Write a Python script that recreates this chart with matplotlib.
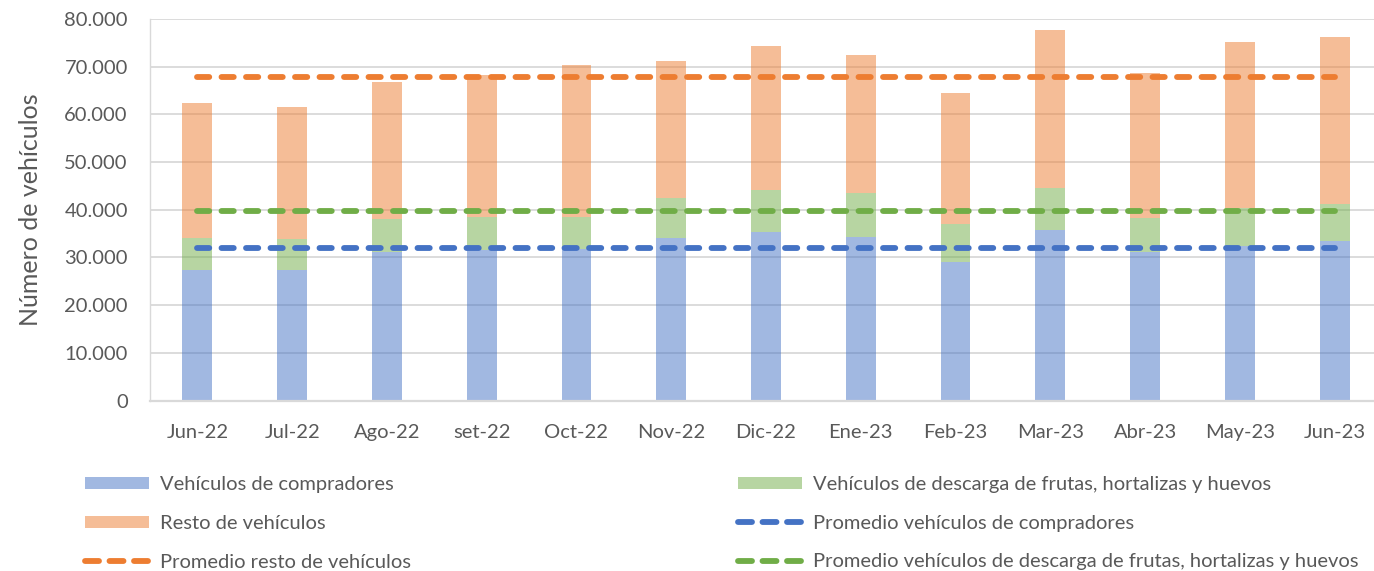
import matplotlib
matplotlib.use("Agg")
import matplotlib.pyplot as plt
from matplotlib.patches import Patch
from matplotlib.lines import Line2D
from matplotlib.ticker import FuncFormatter

months = ["Jun-22", "Jul-22", "Ago-22", "set-22", "Oct-22", "Nov-22", "Dic-22",
          "Ene-23", "Feb-23", "Mar-23", "Abr-23", "May-23", "Jun-23"]
# cumulative top of each stacked segment
compradores = [27360, 27360, 31070, 31620, 31760, 34070, 35390, 34210, 29100, 35810, 31200, 32450, 33500]
top_descarga = [34130, 33790, 38050, 38540, 38540, 42450, 44200, 43440, 37070, 44610, 38330, 40420, 41190]
top_total = [62370, 61530, 66770, 68300, 70340, 71170, 74390, 72430, 64400, 77670, 68660, 75160, 76270]
descarga = [d - c for d, c in zip(top_descarga, compradores)]
resto = [t - d for t, d in zip(top_total, top_descarga)]

prom_compradores = 31970
prom_descarga = 39660   # plotted at stacked level
prom_resto = 67820      # plotted at stacked level

lab_comp = "Vehículos de compradores"
lab_desc = "Vehículos de descarga de frutas, hortalizas y huevos"
lab_rest = "Resto de vehículos"
lab_pcomp = "Promedio vehículos de compradores"
lab_prest = "Promedio resto de vehículos"
lab_pdesc = "Promedio vehículos de descarga de frutas, hortalizas y huevos"

BLUE = "#4472C4"; GREEN = "#70AD47"; ORANGE = "#ED7D31"
TXT = "#595959"; GRID = "#D9D9D9"

plt.rcParams['font.family'] = ['Lato', 'DejaVu Sans']
FS = 14.5

W, H = 1374, 571
fig = plt.figure(figsize=(W / 100, H / 100), dpi=100)
left, right, bottom, top = 150, 1382, 400.5, 19
ax = fig.add_axes([left / W, (H - bottom) / H, (right - left) / W, (bottom - top) / H])

x = list(range(len(months)))
bw = 0.315
ax.bar(x, compradores, width=bw, color=BLUE, alpha=0.5, zorder=2, linewidth=0)
ax.bar(x, descarga, bottom=compradores, width=bw, color=GREEN, alpha=0.5, zorder=2, linewidth=0)
ax.bar(x, resto, bottom=top_descarga, width=bw, color=ORANGE, alpha=0.5, zorder=2, linewidth=0)

lw = 4.2
dash = (2.1, 2.1)
for val, col in [(prom_compradores, BLUE), (prom_descarga, GREEN), (prom_resto, ORANGE)]:
    ax.plot([x[0], x[-1]], [val, val], color=col, lw=lw, linestyle=(0, dash),
            dash_capstyle='round', solid_capstyle='round', zorder=3)

ax.set_xlim(-0.5, len(months) - 0.5)
ax.set_ylim(0, 80000)
ax.set_yticks(range(0, 80001, 10000))
ax.yaxis.set_major_formatter(FuncFormatter(lambda v, p: f"{int(v):,}".replace(",", ".")))
ax.set_xticks(x)
ax.set_xticklabels(months)
ax.grid(axis='y', color=GRID, lw=1.3, zorder=0)
ax.set_axisbelow(True)
for s in ['top', 'right']:
    ax.spines[s].set_visible(False)
ax.spines['left'].set_color(GRID)
ax.spines['left'].set_linewidth(1.0)
ax.spines['bottom'].set_color(GRID)
ax.spines['bottom'].set_linewidth(1.6)
ax.tick_params(axis='both', length=0, labelsize=FS, labelcolor=TXT)
ax.tick_params(axis='y', pad=16)
ax.tick_params(axis='x', pad=17)
ax.set_ylabel("Número de vehículos", fontsize=18, color=TXT, labelpad=16)

h_comp = Patch(facecolor=BLUE, alpha=0.5, linewidth=0)
h_desc = Patch(facecolor=GREEN, alpha=0.5, linewidth=0)
h_rest = Patch(facecolor=ORANGE, alpha=0.5, linewidth=0)
def dl(c):
    return Line2D([], [], color=c, lw=lw, linestyle=(0, (2.4, 1.8)), dash_capstyle='round')

common = dict(frameon=False, fontsize=FS, labelcolor=TXT, handlelength=3.2,
              handleheight=0.55, handletextpad=0.5, labelspacing=1.08,
              borderpad=0, borderaxespad=0, loc='upper left')
fig.legend([h_comp, h_rest, dl(ORANGE)], [lab_comp, lab_rest, lab_prest],
           bbox_to_anchor=(85 / W, (H - 476) / H), **common)
fig.legend([h_desc, dl(BLUE), dl(GREEN)], [lab_desc, lab_pcomp, lab_pdesc],
           bbox_to_anchor=(738 / W, (H - 476) / H), **common)

fig.savefig("out.png", dpi=100)
